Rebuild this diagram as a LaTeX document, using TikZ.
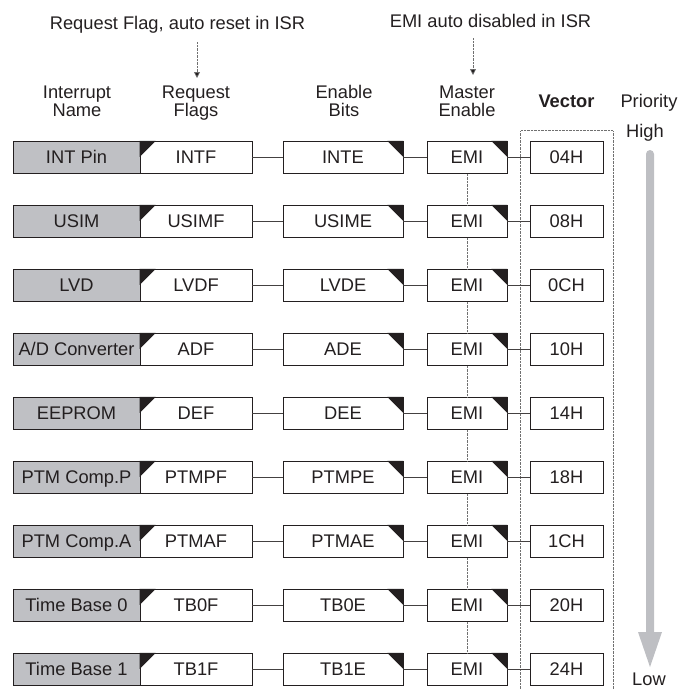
\documentclass[tikz,border=0pt]{standalone}
\usepackage{fontspec}
\setmainfont{Liberation Sans}
\usetikzlibrary{arrows.meta}
\definecolor{inkc}{HTML}{231F20}
\definecolor{namefill}{HTML}{BFC0C4}
\definecolor{prio}{HTML}{BEBFC3}
\definecolor{dotc}{HTML}{707070}
\tikzset{
  lbl/.style={font=\fontsize{18.3}{18.3}\selectfont, text=inkc, inner sep=0pt, anchor=base},
  bx/.style={draw=inkc, line width=0.8pt, minimum height=32pt, inner sep=0pt,
     text height=13pt, text depth=0pt, font=\fontsize{18.3}{18.3}\selectfont, text=inkc},
  namebox/.style={bx, fill=namefill, minimum width=127pt},
  flagbox/.style={bx, fill=white, minimum width=112pt},
  enbox/.style={bx, fill=white, minimum width=120pt},
  emibox/.style={bx, fill=white, minimum width=80pt},
  vecbox/.style={bx, fill=white, minimum width=73pt},
  tri/.style={fill=inkc},
  conn/.style={draw=inkc!85, line width=0.8pt},
  dotline/.style={draw=dotc, line width=0.7pt, dash pattern=on 0.7pt off 0.7pt},
  dotarrow/.style={dotline, -{Triangle[length=6pt,width=6pt,fill=inkc]}, draw=dotc},
}
\newcommand\introw[5]{%
  \pgfmathsetmacro\ry{157.3+64*(#1-1)}
  \node[namebox] (n#1) at (76.5,\ry) {#2};
  \node[flagbox] (f#1) at (196,\ry) {#3};
  \node[enbox] (e#1) at (343,\ry) {#4};
  \node[emibox] (m#1) at (467,\ry) {EMI};
  \node[vecbox] (v#1) at (566.5,\ry) {#5};
  \fill[tri] (f#1.north west) -- ++(16,0) -- ++(-16,16) -- cycle;
  \fill[tri] (e#1.north east) -- ++(-16,0) -- ++(16,16) -- cycle;
  \fill[tri] (m#1.north east) -- ++(-16,0) -- ++(16,16) -- cycle;
  \draw[conn] (f#1) -- (e#1);
  \draw[conn] (e#1) -- (m#1);
  \draw[conn] (m#1) -- (v#1);
}
\begin{document}
\begin{tikzpicture}[x=1pt,y=-1pt]
\useasboundingbox (0,0) rectangle (679,689);
% top notes
\node[lbl] (reqnote) at (177.5,29) {Request Flag, auto reset in ISR};
\node[lbl] (eminote) at (490.5,27) {EMI auto disabled in ISR};
\coordinate (ra1) at (197,42);
\coordinate (ra2) at (197,78);
\coordinate (ea1) at (473,38);
\coordinate (ea2) at (473,75);
\draw[dotarrow] (ra1) -- (ra2);
\draw[dotarrow] (ea1) -- (ea2);
% headers
\node[lbl] (h1a) at (77,98) {Interrupt};
\node[lbl] (h1b) at (77,116) {Name};
\node[lbl] (h2a) at (196,98) {Request};
\node[lbl] (h2b) at (196,116) {Flags};
\node[lbl] (h3a) at (344,98) {Enable};
\node[lbl] (h3b) at (344,116) {Bits};
\node[lbl] (h4a) at (467,98) {Master};
\node[lbl] (h4b) at (467,116) {Enable};
\node[lbl, font=\fontsize{18.3}{18.3}\selectfont\bfseries] (h5) at (566.5,107) {Vector};
\node[lbl] (h6) at (649,107) {Priority};
\node[lbl] (high) at (645,137) {High};
\node[lbl] (low) at (649,685) {Low};
% vector dotted frame
\coordinate (vf1) at (520.7,689);
\coordinate (vf2) at (520.7,130.7);
\coordinate (vf3) at (613,130.7);
\coordinate (vf4) at (613,689);
\draw[dotline] (vf1) -- (vf2) -- (vf3) -- (vf4);
% priority arrow
\fill[prio] (646,632) -- (646,154) arc (180:360:4) -- (654,632) -- (662,632) -- (650,667) -- (638,632) -- cycle;
% rows
\introw{1}{INT Pin}{INTF}{INTE}{04H}
\introw{2}{USIM}{USIMF}{USIME}{08H}
\introw{3}{LVD}{LVDF}{LVDE}{0CH}
\introw{4}{A/D Converter}{ADF}{ADE}{10H}
\introw{5}{EEPROM}{DEF}{DEE}{14H}
\introw{6}{PTM Comp.P}{PTMPF}{PTMPE}{18H}
\introw{7}{PTM Comp.A}{PTMAF}{PTMAE}{1CH}
\introw{8}{Time Base 0}{TB0F}{TB0E}{20H}
\introw{9}{Time Base 1}{TB1F}{TB1E}{24H}
% EMI chain
\foreach \i [evaluate=\i as \j using int(\i+1)] in {1,...,8}
  \draw[dotline] (m\i) -- (m\j);
\end{tikzpicture}
\end{document}
